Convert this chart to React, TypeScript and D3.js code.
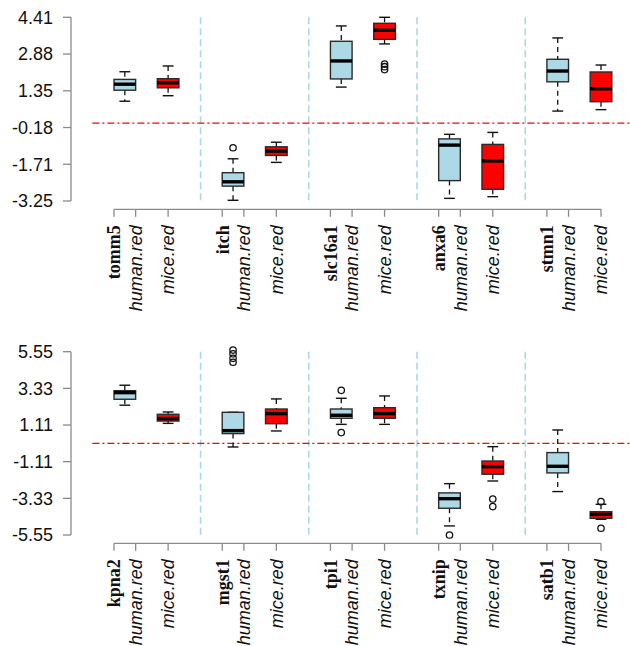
import React from "react";
import * as d3 from "d3";

// Gene names for each panel
const genesTop = ["tomm5", "itch", "slc16a1", "anxa6", "stmn1"];
const genesBottom = ["kpna2", "mgst1", "tpi1", "txnip", "satb1"];
const groupLabels = ["human.red", "mice.red"];

// Box statistics: [lower whisker, Q1, median, Q3, upper whisker]
const humanTop = [
  [0.91, 1.37, 1.62, 1.82, 2.14],
  [-3.22, -2.63, -2.45, -2.07, -1.49],
  [1.5, 1.84, 2.59, 3.41, 4.05],
  [-3.14, -2.4, -0.92, -0.66, -0.47],
  [0.5, 1.72, 2.17, 2.66, 3.55],
];
const miceTop = [
  [1.14, 1.47, 1.68, 1.85, 2.38],
  [-1.64, -1.35, -1.17, -0.99, -0.8],
  [3.3, 3.49, 3.87, 4.16, 4.41],
  [-3.07, -2.76, -1.58, -0.89, -0.39],
  [0.56, 0.89, 1.43, 2.13, 2.42],
];
const humanTopOutliers = [[], [-1.03], [], [], []];
const miceTopOutliers = [[], [], [2.46, 2.35, 2.23], [], []];

const humanBottom = [
  [2.31, 2.67, 3.07, 3.19, 3.52],
  [-0.22, 0.59, 0.77, 1.88, 1.88],
  [1.15, 1.52, 1.7, 2.08, 2.73],
  [-5.0, -3.93, -3.35, -3.0, -2.44],
  [-2.92, -1.79, -1.39, -0.56, 0.81],
];
const miceBottom = [
  [1.21, 1.35, 1.5, 1.76, 1.9],
  [0.75, 1.19, 1.8, 2.08, 2.69],
  [1.15, 1.52, 1.8, 2.16, 2.87],
  [-2.28, -1.87, -1.41, -1.07, -0.2],
  [-4.6, -4.54, -4.3, -4.14, -3.69],
];
const humanBottomOutliers = [[], [5.65, 5.42, 5.15, 4.91], [3.21, 0.65], [-5.55], []];
const miceBottomOutliers = [[], [], [], [-3.37, -3.83], [-3.53, -5.14]];

// Y axis ticks (evenly spaced between the data limits)
const yLimTop = [-3.25, 4.41];
const yLimBottom = [-5.55, 5.55];
const tickLabelsTop = ["-3.25", "-1.71", "-0.18", "1.35", "2.88", "4.41"];
const tickLabelsBottom = ["-5.55", "-3.33", "-1.11", "1.11", "3.33", "5.55"];

const W = 630;
const H = 646;
const AXIS_GRAY = "#8a8a8a";
const LIGHT_BLUE = "#ADD8E6";
const SANS = "'Liberation Sans', Arial, Helvetica, sans-serif";
const SERIF = "'Liberation Serif', 'Times New Roman', serif";

// x positions in slot units: gene label at 0, human box at 1 (tick at 2), mice at 5
const x = d3.scaleLinear().domain([0, 45]).range([114, 601]);
const unit = x(1) - x(0);

type BoxProps = {
  cx: number;
  stats: number[];
  outliers: number[];
  fill: string;
  y: d3.ScaleLinear<number, number>;
};

function Box({ cx, stats, outliers, fill, y }: BoxProps) {
  const [lo, q1, med, q3, hi] = stats;
  const bw = unit; // half width of the box
  const cw = unit / 2; // half width of the whisker staple
  return (
    <g>
      <line x1={cx} x2={cx} y1={y(hi)} y2={y(q3)} stroke="#111" strokeWidth={1.3} strokeDasharray="5,4" />
      <line x1={cx} x2={cx} y1={y(q1)} y2={y(lo)} stroke="#111" strokeWidth={1.3} strokeDasharray="5,4" />
      <line x1={cx - cw} x2={cx + cw} y1={y(hi)} y2={y(hi)} stroke="#111" strokeWidth={1.4} />
      <line x1={cx - cw} x2={cx + cw} y1={y(lo)} y2={y(lo)} stroke="#111" strokeWidth={1.4} />
      <rect
        x={cx - bw}
        y={y(q3)}
        width={2 * bw}
        height={y(q1) - y(q3)}
        fill={fill}
        stroke="#2b2b2b"
        strokeWidth={1.4}
      />
      <line x1={cx - bw} x2={cx + bw} y1={y(med)} y2={y(med)} stroke="#000" strokeWidth={3.4} />
      {outliers.map((v, i) => (
        <circle key={i} cx={cx} cy={y(v)} r={3.2} fill="none" stroke="#111" strokeWidth={1.3} />
      ))}
    </g>
  );
}

type PanelProps = {
  genes: string[];
  human: number[][];
  mice: number[][];
  humanOut: number[][];
  miceOut: number[][];
  yLim: number[];
  tickLabels: string[];
  top: number;
  bottom: number;
};

function Panel({ genes, human, mice, humanOut, miceOut, yLim, tickLabels, top, bottom }: PanelProps) {
  const y = d3.scaleLinear().domain(yLim).range([bottom, top]);
  const tickVals = d3.range(tickLabels.length).map(
    (i) => yLim[0] + ((yLim[1] - yLim[0]) * i) / (tickLabels.length - 1)
  );
  const axisX = 71;
  const xAxisY = bottom + 8.3;
  const slots: { pos: number; text: string; gene: boolean }[] = [];
  genes.forEach((g, i) => {
    slots.push({ pos: 10 * i, text: g, gene: true });
    slots.push({ pos: 10 * i + 2, text: groupLabels[0], gene: false });
    slots.push({ pos: 10 * i + 5, text: groupLabels[1], gene: false });
  });
  return (
    <g>
      {/* y axis */}
      <line x1={axisX} x2={axisX} y1={y(yLim[1])} y2={y(yLim[0])} stroke={AXIS_GRAY} strokeWidth={1.3} />
      {tickVals.map((v, i) => (
        <g key={i}>
          <line x1={axisX - 8} x2={axisX} y1={y(v)} y2={y(v)} stroke={AXIS_GRAY} strokeWidth={1.3} />
          <text
            x={53}
            y={y(v)}
            dy="0.35em"
            textAnchor="end"
            fontFamily={SANS}
            fontSize={18}
            fill="#111"
          >
            {tickLabels[i]}
          </text>
        </g>
      ))}

      {/* group separators */}
      {genes.slice(0, -1).map((_, i) => (
        <line
          key={i}
          x1={x(10 * i + 8)}
          x2={x(10 * i + 8)}
          y1={y(yLim[1])}
          y2={y(yLim[0])}
          stroke={LIGHT_BLUE}
          strokeWidth={1.6}
          strokeDasharray="7,4"
        />
      ))}

      {/* zero reference line */}
      <line
        x1={x(-2)}
        x2={W}
        y1={y(0)}
        y2={y(0)}
        stroke="#ff0000"
        strokeWidth={1.3}
        strokeDasharray="7,3,2,3"
      />

      {/* boxes */}
      {genes.map((_, i) => (
        <g key={i}>
          <Box cx={x(10 * i + 1)} stats={human[i]} outliers={humanOut[i]} fill={LIGHT_BLUE} y={y} />
          <Box cx={x(10 * i + 5)} stats={mice[i]} outliers={miceOut[i]} fill="#ff0000" y={y} />
        </g>
      ))}

      {/* x axis */}
      <line x1={x(0)} x2={x(45)} y1={xAxisY} y2={xAxisY} stroke={AXIS_GRAY} strokeWidth={1.3} />
      {slots.map((s, i) => (
        <g key={i}>
          <line x1={x(s.pos)} x2={x(s.pos)} y1={xAxisY} y2={xAxisY + 7.5} stroke={AXIS_GRAY} strokeWidth={1.3} />
          <text
            transform={`translate(${x(s.pos)},${xAxisY + 16}) rotate(-90)`}
            dy="0.35em"
            textAnchor="end"
            fontFamily={s.gene ? SERIF : SANS}
            fontWeight={s.gene ? "bold" : "normal"}
            fontStyle={s.gene ? "normal" : "italic"}
            fontSize={18}
            fill="#111"
          >
            {s.text}
          </text>
        </g>
      ))}
    </g>
  );
}

export default function App() {
  return (
    <svg
      width={W}
      height={H}
      viewBox={`0 0 ${W} ${H}`}
      style={{ position: "absolute", left: 0, top: 0, background: "#fff" }}
    >
      <Panel
        genes={genesTop}
        human={humanTop}
        mice={miceTop}
        humanOut={humanTopOutliers}
        miceOut={miceTopOutliers}
        yLim={yLimTop}
        tickLabels={tickLabelsTop}
        top={17.3}
        bottom={201}
      />
      <Panel
        genes={genesBottom}
        human={humanBottom}
        mice={miceBottom}
        humanOut={humanBottomOutliers}
        miceOut={miceBottomOutliers}
        yLim={yLimBottom}
        tickLabels={tickLabelsBottom}
        top={351.7}
        bottom={535}
      />
    </svg>
  );
}
